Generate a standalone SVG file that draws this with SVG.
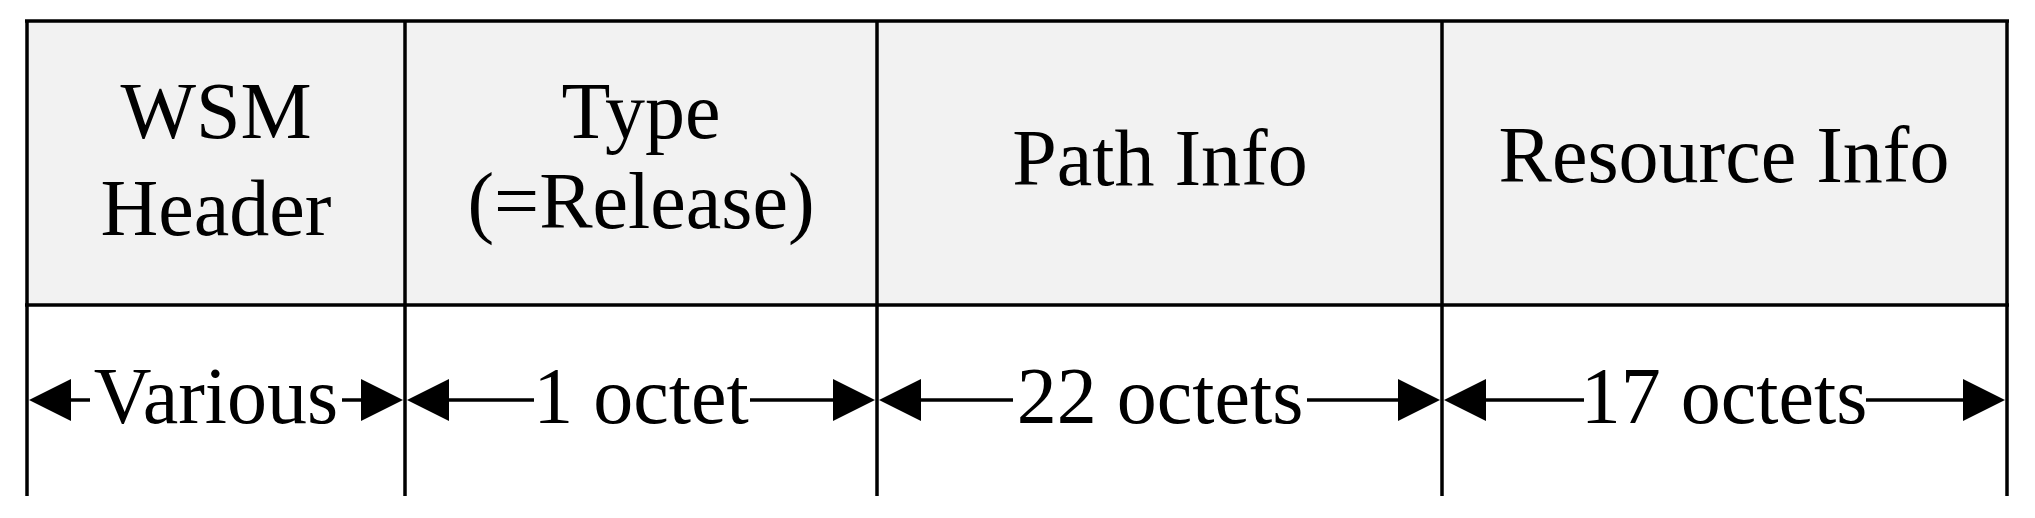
<svg xmlns="http://www.w3.org/2000/svg" width="2035" height="518" viewBox="0 0 2035 518">
<style>
.t{font-family:"Liberation Serif","Times New Roman",serif;font-size:80px;fill:#000;text-anchor:middle}
.g{stroke:#000;stroke-width:3.5;fill:none}
.a{fill:#000}
</style>
<rect x="0" y="0" width="2035" height="518" fill="#fff"/>
<g id="nodes">
<g id="wsm"><rect x="27" y="21" width="378" height="284" fill="#f2f2f2"/><text class="t" x="216" y="138">WSM</text><text class="t" x="216" y="235">Header</text></g>
<g id="type"><rect x="405" y="21" width="472" height="284" fill="#f2f2f2"/><text class="t" x="641" y="138">Type</text><text class="t" x="641" y="228">(=Release)</text></g>
<g id="path"><rect x="877" y="21" width="565" height="284" fill="#f2f2f2"/><text class="t" x="1160" y="185">Path Info</text></g>
<g id="resource"><rect x="1442" y="21" width="565" height="284" fill="#f2f2f2"/><text class="t" x="1724" y="182">Resource Info</text></g>
<g id="grid">
<line class="g" x1="25" y1="21" x2="2009" y2="21" stroke-width="5"/>
<line class="g" x1="25" y1="305" x2="2009" y2="305" stroke-width="5"/>
<line class="g" x1="27" y1="21" x2="27" y2="496"/>
<line class="g" x1="405" y1="21" x2="405" y2="496"/>
<line class="g" x1="877" y1="21" x2="877" y2="496"/>
<line class="g" x1="1442" y1="21" x2="1442" y2="496"/>
<line class="g" x1="2007" y1="21" x2="2007" y2="496"/>
</g>
</g>
<g id="connectors">
<g class="g">
<line x1="65" y1="400" x2="90" y2="400"/><line x1="342" y1="400" x2="368" y2="400"/>
<line x1="443" y1="400" x2="534" y2="400"/><line x1="750" y1="400" x2="840" y2="400"/>
<line x1="915" y1="400" x2="1013" y2="400"/><line x1="1307" y1="400" x2="1405" y2="400"/>
<line x1="1480" y1="400" x2="1584" y2="400"/><line x1="1866" y1="400" x2="1970" y2="400"/>
</g>
<polygon class="a" points="29,400 71,379 71,421"/><polygon class="a" points="403,400 361,379 361,421"/>
<polygon class="a" points="407,400 449,379 449,421"/><polygon class="a" points="875,400 833,379 833,421"/>
<polygon class="a" points="879,400 921,379 921,421"/><polygon class="a" points="1440,400 1398,379 1398,421"/>
<polygon class="a" points="1444,400 1486,379 1486,421"/><polygon class="a" points="2005,400 1963,379 1963,421"/>
</g>
<g id="labels">
<text class="t" x="216" y="423">Various</text>
<text class="t" x="641" y="423">1 octet</text>
<text class="t" x="1160" y="423">22 octets</text>
<text class="t" x="1724" y="423">17 octets</text>
</g>
</svg>
